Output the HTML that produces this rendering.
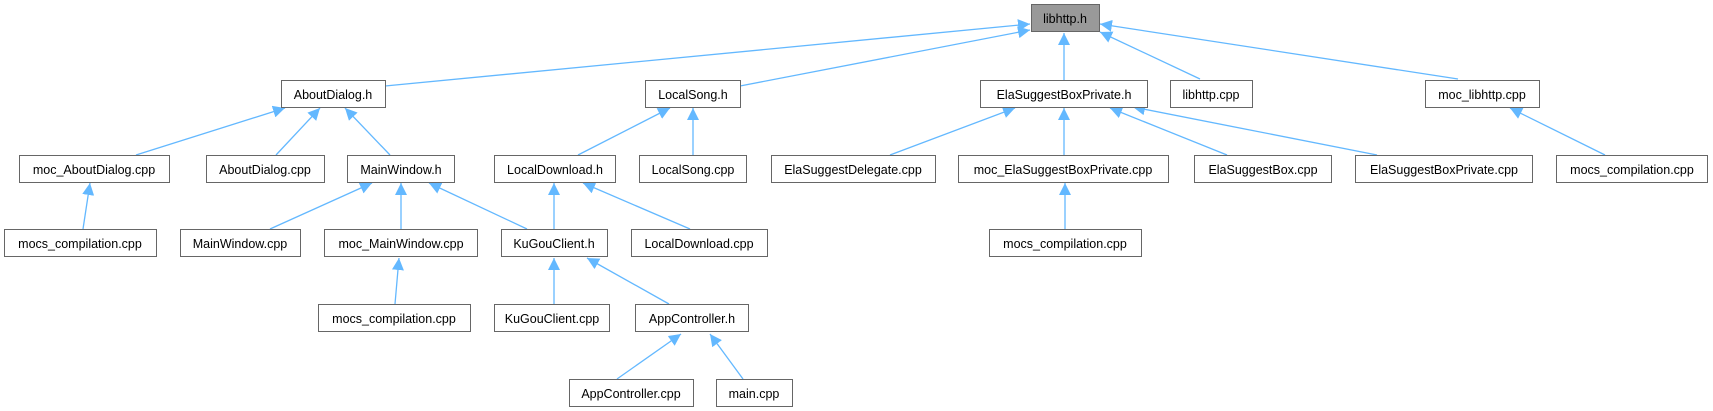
<!DOCTYPE html>
<html><head><meta charset="utf-8"><style>
html,body{margin:0;padding:0;background:#fff;width:1713px;height:411px;overflow:hidden}
svg text{font-family:"Liberation Sans",Arial,sans-serif;font-size:12.5px;fill:#000;text-anchor:middle}
</style></head><body>
<svg width="1713" height="411" viewBox="0 0 1713 411" xmlns="http://www.w3.org/2000/svg">
<defs><marker id="a" markerUnits="userSpaceOnUse" markerWidth="14" markerHeight="12" refX="12" refY="6" orient="auto"><path d="M0,0 L12,6 L0,12 z" fill="#63b8ff"/></marker></defs>
<g stroke="#63b8ff" stroke-width="1.3" marker-end="url(#a)">
<line x1="385" y1="86" x2="1030" y2="24"/>
<line x1="740" y1="86" x2="1030" y2="30"/>
<line x1="1064" y1="80" x2="1064" y2="33"/>
<line x1="1200" y1="79" x2="1100" y2="32"/>
<line x1="1458" y1="79" x2="1100" y2="24"/>
<line x1="136" y1="155" x2="285" y2="108"/>
<line x1="276" y1="155" x2="320" y2="108"/>
<line x1="390" y1="155" x2="345" y2="108"/>
<line x1="578" y1="155" x2="670" y2="108"/>
<line x1="693" y1="155" x2="693" y2="108"/>
<line x1="890" y1="155" x2="1015" y2="108"/>
<line x1="1064" y1="155" x2="1064" y2="108"/>
<line x1="1227" y1="155" x2="1110" y2="108"/>
<line x1="1377" y1="155" x2="1133" y2="107"/>
<line x1="1605" y1="155" x2="1510" y2="108"/>
<line x1="83" y1="229" x2="90" y2="183"/>
<line x1="270" y1="229" x2="372" y2="183"/>
<line x1="401" y1="229" x2="401" y2="183"/>
<line x1="527" y1="229" x2="429" y2="183"/>
<line x1="554" y1="229" x2="554" y2="183"/>
<line x1="690" y1="229" x2="583" y2="183"/>
<line x1="1065" y1="229" x2="1065" y2="183"/>
<line x1="395" y1="304" x2="399" y2="258"/>
<line x1="554" y1="304" x2="554" y2="258"/>
<line x1="669" y1="304" x2="587" y2="258"/>
<line x1="617" y1="379" x2="681" y2="334"/>
<line x1="743" y1="379" x2="710" y2="334"/>
</g>
<g stroke="#666" stroke-width="1" fill="#fff">
<rect x="1031.5" y="4.5" width="68" height="27" fill="#999"/>
<rect x="281.5" y="80.5" width="104" height="27"/>
<rect x="645.5" y="80.5" width="95" height="27"/>
<rect x="980.5" y="80.5" width="167" height="27"/>
<rect x="1170.5" y="80.5" width="82" height="27"/>
<rect x="1425.5" y="80.5" width="114" height="27"/>
<rect x="19.5" y="155.5" width="150" height="27"/>
<rect x="206.5" y="155.5" width="118" height="27"/>
<rect x="347.5" y="155.5" width="107" height="27"/>
<rect x="494.5" y="155.5" width="121" height="27"/>
<rect x="639.5" y="155.5" width="107" height="27"/>
<rect x="771.5" y="155.5" width="164" height="27"/>
<rect x="958.5" y="155.5" width="210" height="27"/>
<rect x="1194.5" y="155.5" width="137" height="27"/>
<rect x="1355.5" y="155.5" width="177" height="27"/>
<rect x="1556.5" y="155.5" width="151" height="27"/>
<rect x="4.5" y="229.5" width="152" height="27"/>
<rect x="180.5" y="229.5" width="120" height="27"/>
<rect x="324.5" y="229.5" width="153" height="27"/>
<rect x="501.5" y="229.5" width="106" height="27"/>
<rect x="631.5" y="229.5" width="136" height="27"/>
<rect x="989.5" y="229.5" width="152" height="27"/>
<rect x="318.5" y="304.5" width="152" height="27"/>
<rect x="494.5" y="304.5" width="115" height="27"/>
<rect x="635.5" y="304.5" width="113" height="27"/>
<rect x="569.5" y="379.5" width="124" height="27"/>
<rect x="716.5" y="379.5" width="76" height="27"/>
</g>
<g>
<text x="1065" y="23">libhttp.h</text>
<text x="333" y="99">AboutDialog.h</text>
<text x="693" y="99">LocalSong.h</text>
<text x="1064" y="99">ElaSuggestBoxPrivate.h</text>
<text x="1211" y="99">libhttp.cpp</text>
<text x="1482" y="99">moc_libhttp.cpp</text>
<text x="94" y="174">moc_AboutDialog.cpp</text>
<text x="265" y="174">AboutDialog.cpp</text>
<text x="401" y="174">MainWindow.h</text>
<text x="555" y="174">LocalDownload.h</text>
<text x="693" y="174">LocalSong.cpp</text>
<text x="853" y="174">ElaSuggestDelegate.cpp</text>
<text x="1063" y="174">moc_ElaSuggestBoxPrivate.cpp</text>
<text x="1263" y="174">ElaSuggestBox.cpp</text>
<text x="1444" y="174">ElaSuggestBoxPrivate.cpp</text>
<text x="1632" y="174">mocs_compilation.cpp</text>
<text x="80" y="248">mocs_compilation.cpp</text>
<text x="240" y="248">MainWindow.cpp</text>
<text x="401" y="248">moc_MainWindow.cpp</text>
<text x="554" y="248">KuGouClient.h</text>
<text x="699" y="248">LocalDownload.cpp</text>
<text x="1065" y="248">mocs_compilation.cpp</text>
<text x="394" y="323">mocs_compilation.cpp</text>
<text x="552" y="323">KuGouClient.cpp</text>
<text x="692" y="323">AppController.h</text>
<text x="631" y="398">AppController.cpp</text>
<text x="754" y="398">main.cpp</text>
</g>
</svg>
</body></html>
